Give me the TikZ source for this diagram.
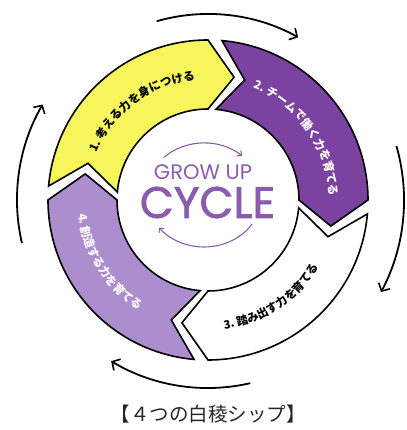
\documentclass[tikz,border=0pt]{standalone}
\usepackage{fontspec}
\usepackage{xcolor}
\usepackage{tikz}
\usetikzlibrary{calc, decorations.text, arrows.meta}

\newfontfamily\jpfont{Noto Sans CJK JP}
\newfontfamily\cyclefont{Poppins}
\newfontfamily\cyclemid{Poppins}[FakeBold=1.8]

\definecolor{segyellow}{RGB}{247,245,92}
\definecolor{segpurple}{RGB}{124,66,160}
\definecolor{seglavender}{RGB}{172,142,206}
\definecolor{cyclepurple}{RGB}{140,92,172}

\begin{document}
\begin{tikzpicture}[x=1pt, y=1pt,
    segment/.style={draw=black, line width=1.6pt, line join=miter},
    outarrow/.style={black, line width=1.8pt, -{Straight Barb[length=6pt, width=13pt, line width=1.6pt]}},
    innerarrow/.style={cyclepurple, line width=1.1pt, -{Straight Barb[length=3.5pt, width=7pt, line width=1pt]}},
    segtext/.style={decorate, decoration={text along path, text align=center, text color=#1}}]

    \useasboundingbox (0,0) rectangle (406,430);
    \coordinate (O) at (208,230);
    \coordinate (OC) at (204,235);

    % =================================================================
    % 1. THE FOUR RING SEGMENTS (clockwise, notch at tail, point at head)
    % =================================================================
    \foreach \ta/\hd/\col in {175/90/segyellow, 85/0/segpurple, -5/-90/white, -95/-180/seglavender}
        \filldraw[segment, fill=\col] ($(O)+(\ta:160)$) arc[start angle=\ta, end angle=\hd, radius=160]
            -- ($(O)+(\hd-12:125.5)$) -- ($(O)+(\hd:91)$)
            arc[start angle=\hd, end angle=\ta, radius=91]
            -- ($(O)+(\ta-12:125.5)$) -- cycle;

    % =================================================================
    % 2. LABELS ALONG THE SEGMENTS
    % =================================================================
    % Segment 1 (yellow)
    \path[segtext=black, decoration={text={|\jpfont\bfseries\fontsize{11.5}{11.5}\selectfont|1. 考える力を身につける}}]
        ($(O)+(165:121)$) arc[start angle=165, end angle=88, radius=121];

    % Segment 2 (purple)
    \path[segtext=white, decoration={text={|\jpfont\bfseries\fontsize{11.5}{11.5}\selectfont|2. チームで働く力を育てる}}]
        ($(O)+(74:121)$) arc[start angle=74, end angle=-4, radius=121];

    % Segment 3 (white)
    \path[segtext=black, decoration={text={|\jpfont\bfseries\fontsize{11.5}{11.5}\selectfont|3. 踏み出す力を育てる}}]
        ($(O)+(-96:130)$) arc[start angle=-96, end angle=-18, radius=130];

    % Segment 4 (lavender)
    \path[segtext=white, decoration={text={|\jpfont\bfseries\fontsize{11.5}{11.5}\selectfont|4. 創造する力を育てる}}]
        ($(O)+(173:130)$) arc[start angle=173, end angle=251, radius=130];

    % =================================================================
    % 3. CENTRE TITLE WITH ITS SMALL ARROWS
    % =================================================================
    \node[font=\cyclefont\fontsize{21}{21}\selectfont, text=cyclepurple, inner sep=0pt] (grow) at (203,257.5) {GROW UP};
    \node[font=\cyclemid\fontsize{44}{44}\selectfont, text=cyclepurple, inner sep=0pt] (cycle) at (207.5,227.5) {CYCLE};

    \draw[innerarrow] ($(OC)+(134:58 and 52)$) arc[start angle=134, end angle=49, x radius=58, y radius=52];
    \draw[innerarrow] ($(OC)+(-34:58 and 52)$) arc[start angle=-34, end angle=-141, x radius=58, y radius=52];

    % =================================================================
    % 4. OUTER ARROWS
    % =================================================================
    \draw[outarrow] ($(O)+(106:186)$) arc[start angle=106, end angle=61, radius=186];
    \draw[outarrow] ($(O)+(16:196)$) arc[start angle=16, end angle=-28, radius=196];
    \draw[outarrow] ($(O)+(-77:188)$) arc[start angle=-77, end angle=-121, radius=188];
    \draw[outarrow] ($(O)+(193:191)$) arc[start angle=193, end angle=150, radius=191];

    % =================================================================
    % 5. CAPTION
    % =================================================================
    \node[font=\jpfont\fontsize{19.5}{19.5}\selectfont, text=black!85] (caption) at (208,16) {【４つの白稜シップ】};

\end{tikzpicture}
\end{document}
